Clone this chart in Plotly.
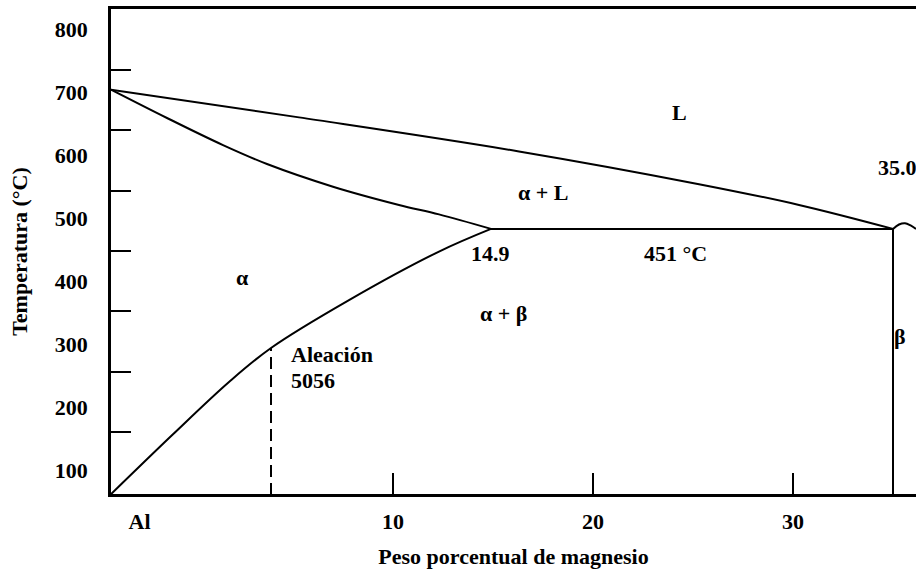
import numpy as np
import plotly.graph_objects as go

# Al–Mg phase diagram (aluminium-rich side), schematic
# composition in wt% Mg, temperature in °C

liquidus_x = [-4.1, 5.3, 16.3, 25.3, 30.3, 35.0]
liquidus_t = [672, 628, 574, 522, 489, 451]

solidus_x = [-4.1, -1.3, 1.5, 3.7, 7.0, 10.3, 12.3, 14.9]
solidus_t = [672, 627, 584, 554, 518, 489, 474, 451]

solvus_x = [-4.1, -1.0, 1.8, 3.9, 7.8, 12.3, 14.9]
solvus_t = [30, 125, 208, 262, 338, 415, 451]

eutectic_t = 451
alpha_max_x = 14.9
beta_x = 35.0

beta_cap_x = [35.0, 35.3, 35.6, 35.9, 36.15]
beta_cap_t = [451, 458, 460, 456, 451]

alloy_x = 3.9          # alloy 5056

temp_ticks = [100, 200, 300, 400, 500, 600, 700, 800]
comp_ticks = [10, 20, 30]
comp_tick_labels = ["10", "20", "30"]

FONT = "Liberation Serif"
BLACK = "black"

fig = go.Figure()

def curve(x, y, dash="solid", shape="linear"):
    fig.add_trace(go.Scatter(x=x, y=y, mode="lines",
                             line=dict(color=BLACK, width=2, dash=dash,
                                       shape=shape, smoothing=1.0),
                             hoverinfo="skip"))

curve(liquidus_x, liquidus_t, shape="spline")
curve(solidus_x, solidus_t, shape="spline")
curve(solvus_x, solvus_t, shape="spline")
curve([alpha_max_x, beta_x], [eutectic_t, eutectic_t])
curve([beta_x, beta_x], [eutectic_t, 0])
curve(beta_cap_x, beta_cap_t, shape="spline")

# alloy 5056: dashed line from the base up to the solvus
alloy_top = float(np.interp(alloy_x, solvus_x, solvus_t))
curve([alloy_x, alloy_x], [0, alloy_top], dash="12px,6px")

labels = [
    ("L", 24.3, 636, "center"),
    ("α + L", 17.5, 509, "center"),
    (f"{beta_x:.1f}", 35.2, 548, "center"),
    (f"{alpha_max_x}", 14.85, 412, "center"),
    (f"{eutectic_t} °C", 24.1, 412, "center"),
    ("α + β", 15.5, 317, "center"),
    ("α", 2.45, 374, "center"),
    ("β", 35.35, 280, "center"),
    ("Aleación", 4.8, 252, "left"),
    ("5056", 4.8, 211, "left"),
]
for text, x, y, anchor in labels:
    fig.add_annotation(x=x, y=y, text=f"<b>{text}</b>", showarrow=False,
                       xanchor=anchor, yanchor="middle",
                       font=dict(family=FONT, size=22, color=BLACK))

fig.update_layout(
    width=916, height=569,
    margin=dict(l=111, r=0, t=9, b=75),
    paper_bgcolor="white", plot_bgcolor="white",
    showlegend=False,
    font=dict(family=FONT, color=BLACK),
)

fig.update_xaxes(
    range=[-4.1, 36.15], showgrid=False, zeroline=False, automargin=False,
    showline=True, linecolor=BLACK, linewidth=2.5, mirror=True,
    tickmode="array",
    tickvals=[-2.67] + comp_ticks,
    ticktext=["<b>Al</b>"] + [f"<b>{t}</b>" for t in comp_tick_labels],
    ticks="", ticklabelstandoff=6,
    tickfont=dict(family=FONT, size=22, color=BLACK),
    minor=dict(tickmode="array", tickvals=comp_ticks, ticks="inside",
               ticklen=21, tickwidth=2, tickcolor=BLACK),
    title=dict(text="<b>Peso porcentual de magnesio</b>",
               font=dict(family=FONT, size=22, color=BLACK), standoff=22),
)

fig.update_yaxes(
    range=[30.2, 800], showgrid=False, zeroline=False, automargin=False,
    showline=True, linecolor=BLACK, linewidth=2.5,
    tickmode="array", tickvals=temp_ticks,
    ticktext=[f"<b>{t}</b>" for t in temp_ticks],
    ticks="", ticklabelshift=20, ticklabelstandoff=16,
    tickfont=dict(family=FONT, size=22, color=BLACK),
    minor=dict(tickmode="array",
               tickvals=[703, 608, 511, 416, 321, 224, 129],
               ticks="inside", ticklen=20, tickwidth=2, tickcolor=BLACK),
    title=dict(text="<b>Temperatura (°C)</b>",
               font=dict(family=FONT, size=22, color=BLACK), standoff=22),
)

fig.write_html("out.html")
